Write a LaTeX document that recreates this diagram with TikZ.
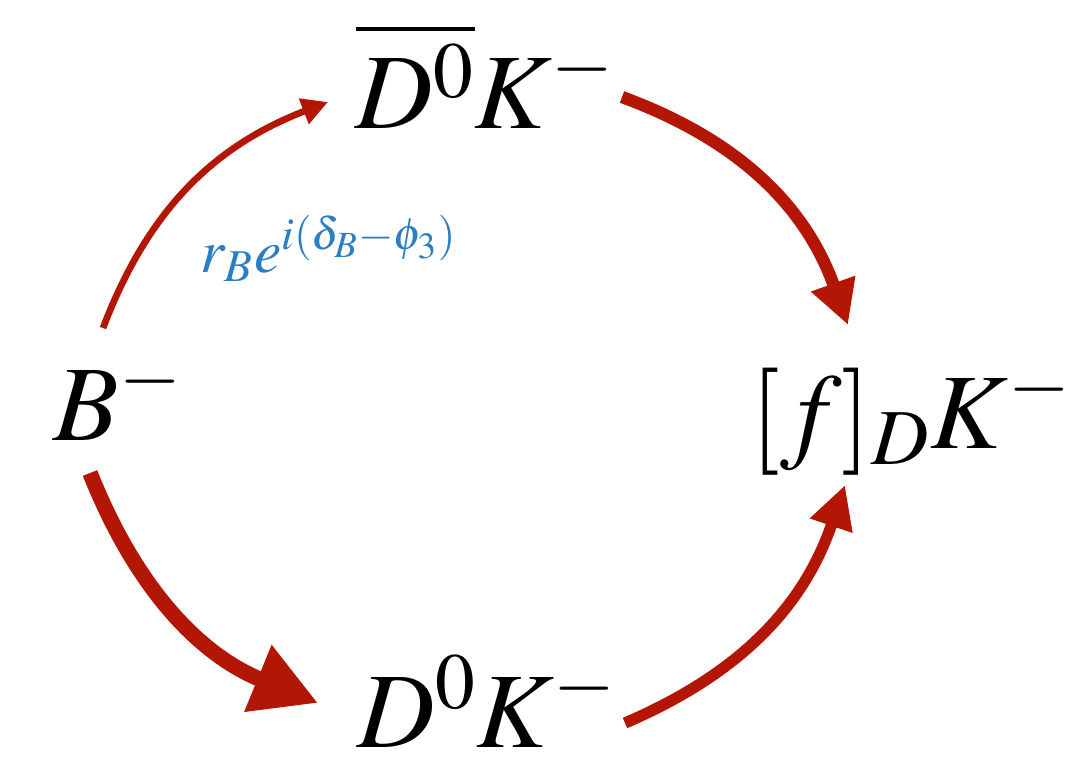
\documentclass[tikz,border=0pt]{standalone}
\usepackage{amsmath}
\usepackage{mathptmx}
\usetikzlibrary{arrows.meta,positioning}

\definecolor{arrowred}{RGB}{180,22,5}
\definecolor{ampblue}{RGB}{45,125,195}

\begin{document}
\begin{tikzpicture}[
    meson/.style={inner sep=0pt, anchor=base west, font=\fontsize{30.5}{36}\selectfont},
    decay/.style={arrowred, line width=#1},
  ]
    \useasboundingbox (0,0) rectangle (10.77,7.61);

    % states
    \node[meson] (bm) at (0.53,3.21) {$B^-$};
    \node[meson] (dbk) at (3.55,6.33) {$\overline{D^0}K^-$};
    \node[meson] (dk) at (3.57,0.14) {$D^0K^-$};
    \node[meson] (fdk) at (7.50,3.13) {$[f]_DK^-$};

    \node[anchor=base west, inner sep=0pt, text=ampblue, font=\fontsize{17.5}{21}\selectfont] (amp) at (2.00,4.89) {$r_Be^{i(\delta_B-\phi_3)}$};

    % suppressed path
    \draw[decay=1.9pt, -{Triangle[length=0.26cm,width=0.26cm]}] ([shift={(0.50,1.12)}]bm.base west) to[bend left=24] ([shift={(-0.27,0.26)}]dbk.base west);
    \draw[decay=3.5pt, -{Triangle[length=0.44cm,width=0.44cm]}] ([shift={(2.67,0.31)}]dbk.base west) to[bend left=25] ([shift={(0.98,1.23)}]fdk.base west);

    % favoured path
    \draw[decay=4.4pt, -{Triangle[length=0.65cm,width=0.68cm]}] ([shift={(0.37,-0.33)}]bm.base west) to[bend right=23] ([shift={(-0.39,0.44)}]dk.base west);
    \draw[decay=3.2pt, -{Triangle[length=0.43cm,width=0.42cm]}] ([shift={(2.68,0.24)}]dk.base west) to[bend right=24] ([shift={(0.95,-0.37)}]fdk.base west);
\end{tikzpicture}
\end{document}
